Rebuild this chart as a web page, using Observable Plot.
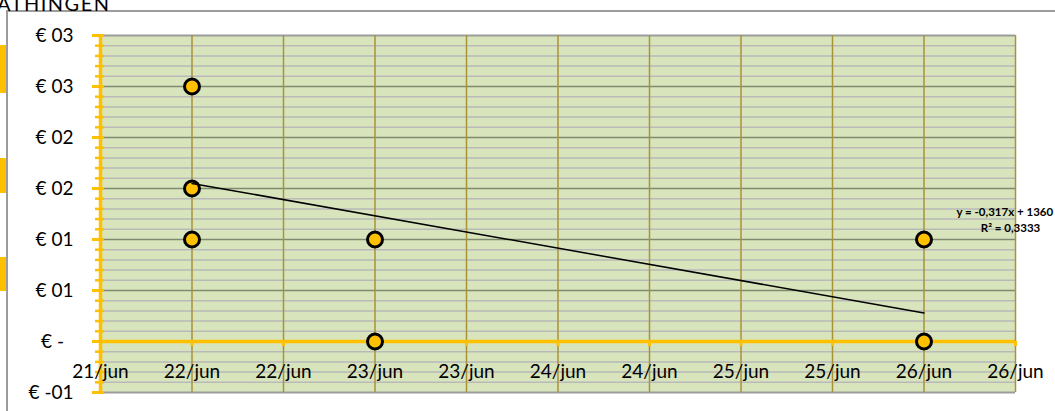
<!DOCTYPE html>
<html><head><meta charset="utf-8">
<script src="https://cdn.jsdelivr.net/npm/d3@7"></script>
<script src="https://cdn.jsdelivr.net/npm/@observablehq/plot@0.6"></script>
<style>
body{margin:0;background:#fff;overflow:hidden;font-family:Lato,"Open Sans",sans-serif;}
#wrap{position:relative;width:1055px;height:411px;overflow:hidden;}
#title{position:absolute;left:-3px;top:-9px;font-size:20px;color:#000;white-space:nowrap;letter-spacing:1.5px;}
#border{position:absolute;left:6px;top:10px;width:1200px;height:600px;border:2px solid #9c9c9c;box-sizing:border-box;}
.tab{position:absolute;left:0;width:6px;background:#FFC000;}
#chart{position:absolute;left:0;top:0;}
</style></head>
<body><div id="wrap">
<div id="border"></div>
<div class="tab" style="top:45px;height:48px"></div>
<div class="tab" style="top:158px;height:35px"></div>
<div class="tab" style="top:257px;height:34px"></div>
<div id="title">ATHINGEN</div>
<div id="chart"></div>
</div>
<script>
// data (x = day of June, y = price in €)
const dates = [22, 22, 22, 23, 23, 26, 26];
const prices = [2.5, 1.5, 1.0, 1.0, 0, 1.0, 0];
// linear trendline
const trendDates = [22, 26];
const trendPrices = [1.55, 0.28];
const trendEquation = "y = -0,317x + 1360";
const trendR2 = "R² = 0,3333";
// ticks
const xTickValues = [21.5, 22, 22.5, 23, 23.5, 24, 24.5, 25, 25.5, 26, 26.5];
const xTickLabels = ["21/jun","22/jun","22/jun","23/jun","23/jun","24/jun","24/jun","25/jun","25/jun","26/jun","26/jun"];
const yTickValues = [-0.5, 0, 0.5, 1, 1.5, 2, 2.5, 3];
const yTickLabels = ["€ -01", "€ -\u2002", "€ 01", "€ 01", "€ 02", "€ 02", "€ 03", "€ 03"];
const yMinorStep = 0.1;

const points = dates.map((d, i) => ({d, p: prices[i]}));
const trend = trendDates.map((d, i) => ({d, p: trendPrices[i]}));
const xTicks = xTickValues.map((v, i) => ({v, label: xTickLabels[i]}));
const yTicks = yTickValues.map((v, i) => ({v, label: yTickLabels[i]}));
const yMinor = d3.range(Math.round(-0.5 / yMinorStep), Math.round(3 / yMinorStep) + 1)
  .map(k => +(k * yMinorStep).toFixed(2))
  .filter(v => !yTickValues.some(t => Math.abs(t - v) < 1e-9));

const GOLD = "#FFC000";
const chart = Plot.plot({
  width: 1055, height: 411,
  marginLeft: 100, marginRight: 40, marginTop: 35, marginBottom: 19,
  style: {fontFamily: "Lato, 'Open Sans', sans-serif", background: "transparent", overflow: "visible"},
  x: {domain: [21.5, 26.5], axis: null},
  y: {domain: [-0.5, 3], axis: null},
  marks: [
    Plot.frame({fill: "#D8E4BC", stroke: null}),
    Plot.ruleY(yMinor, {stroke: "#B9B9B9", strokeWidth: 1.5}),
    Plot.ruleY(yTickValues.filter(v => v > -0.5 && v < 3), {stroke: "#7F8B70", strokeWidth: 1.5}),
    Plot.ruleY([3, -0.5], {stroke: "#9C9C9C", strokeWidth: 2}),
    Plot.ruleX(xTickValues, {stroke: "#A8923A", strokeWidth: 1.5}),
    // axes lines
    Plot.ruleY([0], {stroke: GOLD, strokeWidth: 3.5}),
    Plot.ruleX([21.5], {stroke: GOLD, strokeWidth: 3.5}),
    Plot.ruleY(yTickValues, {x1: 21.5, x2: 21.5, insetLeft: -8, insetRight: -4, stroke: GOLD, strokeWidth: 3}),
    Plot.ruleY(yMinor, {x1: 21.5, x2: 21.5, insetLeft: -5, insetRight: -4, stroke: GOLD, strokeWidth: 2.5}),
    Plot.ruleX(xTickValues, {y1: 0, y2: 0, insetTop: 0, insetBottom: -5, stroke: GOLD, strokeWidth: 3}),
    // tick labels
    Plot.text(yTicks, {y: "v", text: "label", frameAnchor: "left", textAnchor: "end", dx: -27, fontSize: 19, fill: "#000"}),
    Plot.text(xTicks, {x: "v", y: () => 0, text: "label", dy: 30, fontSize: 19, fill: "#000"}),
    // data
    Plot.dot(points, {x: "d", y: "p", r: 7.5, fill: GOLD, stroke: "#000", strokeWidth: 3}),
    Plot.line(trend, {x: "d", y: "p", stroke: "#000", strokeWidth: 1.5}),
    Plot.text([trendEquation], {frameAnchor: "right", textAnchor: "start", dx: -59, dy: -2, fontSize: 11.5, fontWeight: "bold", fill: "#000"}),
    Plot.text([trendR2], {frameAnchor: "right", textAnchor: "middle", dx: -5, dy: 14, fontSize: 11.5, fontWeight: "bold", fill: "#000"})
  ]
});
document.getElementById("chart").appendChild(chart);
</script>
</body></html>
